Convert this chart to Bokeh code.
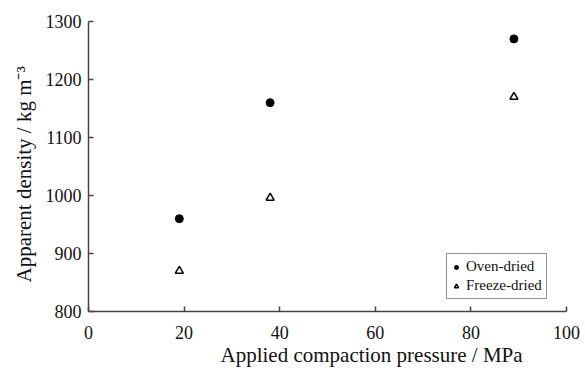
from bokeh.plotting import figure
from bokeh.models import Range1d, Legend, LegendItem, FixedTicker, Title
from bokeh.embed import file_html
from bokeh.resources import INLINE

pressure = [19, 38, 89]
oven_dried = [960, 1160, 1270]
freeze_dried = [870, 996, 1170]
x_ticks = [0, 20, 40, 60, 80, 100]
y_ticks = [800, 900, 1000, 1100, 1200, 1300]
x_title = "Applied compaction pressure / MPa"
y_title = "Apparent density / kg m\u207b\u00b3"

FONT = "Liberation Serif"

p = figure(width=585, height=370, output_backend="svg", toolbar_location=None,
           x_range=Range1d(0, 100), y_range=Range1d(800, 1300),
           min_border_left=88, min_border_right=19, min_border_top=21, min_border_bottom=59)
p.outline_line_color = None
p.grid.visible = False
p.background_fill_color = "white"

r1 = p.scatter(pressure, oven_dried, marker="circle", size=8, fill_color="black", line_color="black")
r2 = p.scatter(pressure, freeze_dried, marker="triangle", size=8, fill_color="white",
               line_color="black", line_width=1.5)

for ax in (p.xaxis[0], p.yaxis[0]):
    ax.axis_line_color = "#444444"
    ax.axis_line_width = 1.5
    ax.major_tick_line_color = "#444444"
    ax.major_tick_line_width = 1.5
    ax.major_tick_in = 5
    ax.major_tick_out = 0
    ax.minor_tick_line_color = None
    ax.major_label_text_font = FONT
    ax.major_label_text_font_size = "18px"
    ax.major_label_text_font_style = "normal"
    ax.major_label_text_color = "#111111"

p.xaxis.ticker = FixedTicker(ticks=x_ticks)
p.yaxis.ticker = FixedTicker(ticks=y_ticks)
p.xaxis.major_label_standoff = 14
p.yaxis.major_label_standoff = 7

# axis titles, placed off-centre as in the original
p.add_layout(Title(text=x_title, text_font=FONT, text_font_size="21px", text_font_style="normal",
                   text_color="#111111", align="left", offset=132, standoff=-2), "below")
p.add_layout(Title(text=y_title, text_font=FONT, text_font_size="21px", text_font_style="normal",
                   text_color="#111111", align="left", offset=29, standoff=14), "left")

legend = Legend(items=[LegendItem(label="Oven-dried", renderers=[r1]),
                       LegendItem(label="Freeze-dried", renderers=[r2])],
                location=(358, 12))
legend.border_line_color = "#222222"
legend.border_line_width = 1
legend.label_text_font = FONT
legend.label_text_font_size = "15px"
legend.label_text_font_style = "normal"
legend.label_text_color = "#111111"
legend.glyph_width = 10
legend.glyph_height = 16
legend.label_standoff = 5
legend.padding = 4
legend.spacing = 2
legend.margin = 0
legend.label_height = 16
p.add_layout(legend, "center")

open("out.html", "w").write(file_html(p, INLINE))
